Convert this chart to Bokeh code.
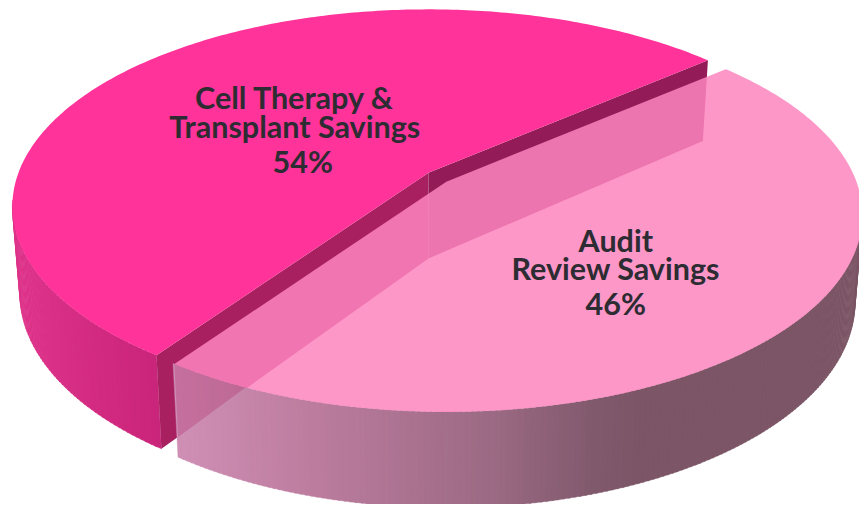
import math
from bokeh.plotting import figure
from bokeh.embed import file_html
from bokeh.resources import INLINE
from bokeh.core.properties import value

categories = ["Audit Review Savings", "Cell Therapy & Transplant Savings"]
shares = [46, 54]
labels_light = ["Audit", "Review Savings", "46%"]
labels_dark = ["Cell Therapy &", "Transplant Savings", "54%"]

# projection of the pie
CX, CY, RX, RY = 432.0, 209.0, 420.0, 200.0
K = 0.17
START = -40.8
EXPLODE = (18.0, 9.0)
W = 859; H = 504

def top(theta_deg, off=(0.0, 0.0), r=1.0):
    t = math.radians(theta_deg)
    X, Y = r * math.cos(t), r * math.sin(t)
    d = 1 - K * Y
    u = X * math.sqrt(1 - K * K) / d
    v = (Y - K) / d
    return CX + RX * u + off[0], CY + RY * v + off[1]

def bottom(theta_deg, off=(0.0, 0.0), r=1.0):
    x, y = top(theta_deg, (0, 0), r)
    v = (y - CY) / RY
    return x - (x - CX) * 0.018 + off[0], y + 88.5 + 8.7 * v + off[1]

def rgb(stops, x):
    if x <= stops[0][0]:
        c = stops[0][1]
    elif x >= stops[-1][0]:
        c = stops[-1][1]
    else:
        for (a, ca), (b, cb) in zip(stops, stops[1:]):
            if x <= b:
                f = (x - a) / (b - a)
                c = [ca[i] + (cb[i] - ca[i]) * f for i in range(3)]
                break
    return "#%02x%02x%02x" % tuple(int(round(q)) for q in c)

LIGHT_WALL = [(185, (207, 142, 180)), (320, (188, 124, 158)), (500, (156, 106, 132)), (600, (130, 90, 110)), (650, (124, 85, 102)), (867, (124, 85, 102))]
DARK_WALL = [(20, (222, 52, 140)), (100, (210, 42, 128)), (165, (200, 36, 122))]

total = sum(shares)
light_end = START + 360.0 * shares[0] / total
dark_end = START + 360.0

p = figure(width=W, height=H, x_range=(0, 867), y_range=(512, 0), toolbar_location=None,
           output_backend="svg", min_border=0, outline_line_color=None, background_fill_color="white")
p.xaxis.visible = False
p.yaxis.visible = False
p.grid.visible = False

def frange(a, b, n):
    return [a + (b - a) * i / n for i in range(n + 1)]

# dark slice
dark_arc = frange(light_end, dark_end, 240)
left_i = min(range(len(dark_arc)), key=lambda i: top(dark_arc[i])[0])
wall_x, wall_y, wall_c = [], [], []
for a, b in zip(dark_arc[:left_i + 2], dark_arc[1:left_i + 3]):
    t0, t1 = top(a), top(b + 0.25)
    b0, b1 = bottom(a), bottom(b + 0.25)
    wall_x.append([t0[0], t1[0], b1[0], b0[0]])
    wall_y.append([t0[1], t1[1], b1[1], b0[1]])
    wall_c.append(rgb(DARK_WALL, t0[0]))
p.patches(wall_x, wall_y, fill_color=wall_c, line_color=wall_c, line_width=0.4)

apex = top(0, r=0.0)
apex_b = bottom(0, r=0.0)
lend_t, lend_b = top(light_end), bottom(light_end)
rend_t, rend_b = top(dark_end), bottom(dark_end)
p.patch([apex[0], lend_t[0], lend_b[0], apex_b[0]], [apex[1], lend_t[1], lend_b[1], apex_b[1]],
        fill_color="#a82060", line_color=None)
p.patch([apex[0], rend_t[0], rend_b[0], apex_b[0]], [apex[1], rend_t[1], rend_b[1], apex_b[1]],
        fill_color="#931c58", line_color=None)
pts = [apex] + [top(t) for t in dark_arc]
p.patch([q[0] for q in pts], [q[1] for q in pts], fill_color="#ff3399", line_color=None)

# light slice: only the front of the wall, from the rightmost point of the rim
light_arc = frange(START, light_end, 240)
right_i = max(range(len(light_arc)), key=lambda i: top(light_arc[i])[0])
wall_x, wall_y, wall_c = [], [], []
for a, b in zip(light_arc[right_i:], light_arc[right_i + 1:]):
    t0, t1 = top(a, EXPLODE), top(b + 0.2, EXPLODE)
    b0, b1 = bottom(a, EXPLODE), bottom(b + 0.2, EXPLODE)
    wall_x.append([t0[0], t1[0], b1[0], b0[0]])
    wall_y.append([t0[1], t1[1], b1[1], b0[1]])
    wall_c.append(rgb(LIGHT_WALL, t0[0]))
p.patches(wall_x[::-1], wall_y[::-1], fill_color=wall_c[::-1], line_color=wall_c[::-1], line_width=0.4)

# part of the dark cut face that shows through the light wall
def side(q):
    return (apex_b[0] - lend_b[0]) * (q[1] - lend_b[1]) - (apex_b[1] - lend_b[1]) * (q[0] - lend_b[0])
A = top(light_end, EXPLODE)
B = bottom(light_end, EXPLODE)
f = side(A) / (side(A) - side(B))
P1 = (A[0] + (B[0] - A[0]) * f, A[1] + (B[1] - A[1]) * f)
rim = [A]
for t in frange(light_end, START, 480):
    q = top(t, EXPLODE)
    if side(q) * side(A) < 0:
        break
    rim.append(q)
poly = [P1] + rim
p.patch([q[0] for q in poly], [q[1] for q in poly], fill_color="#a82060", fill_alpha=0.28, line_color=None)

pts = [top(0, EXPLODE, 0.0)] + [top(t, EXPLODE) for t in light_arc]
p.patch([q[0] for q in pts], [q[1] for q in pts], fill_color="#fd85be", fill_alpha=0.85, line_color=None)

# labels
font = value("Lato")
def label(lines, xs, ys):
    p.text(xs, ys, text=lines, text_font=font, text_font_size="30.5px", text_font_style="bold",
           text_color="#2c2c32", text_align="center", text_baseline="middle")
label(labels_dark, [297, 297, 305], [98, 127, 163])
label(labels_light, [621, 621, 621], [243, 272, 307])

open("out.html", "w").write(file_html(p, INLINE))
